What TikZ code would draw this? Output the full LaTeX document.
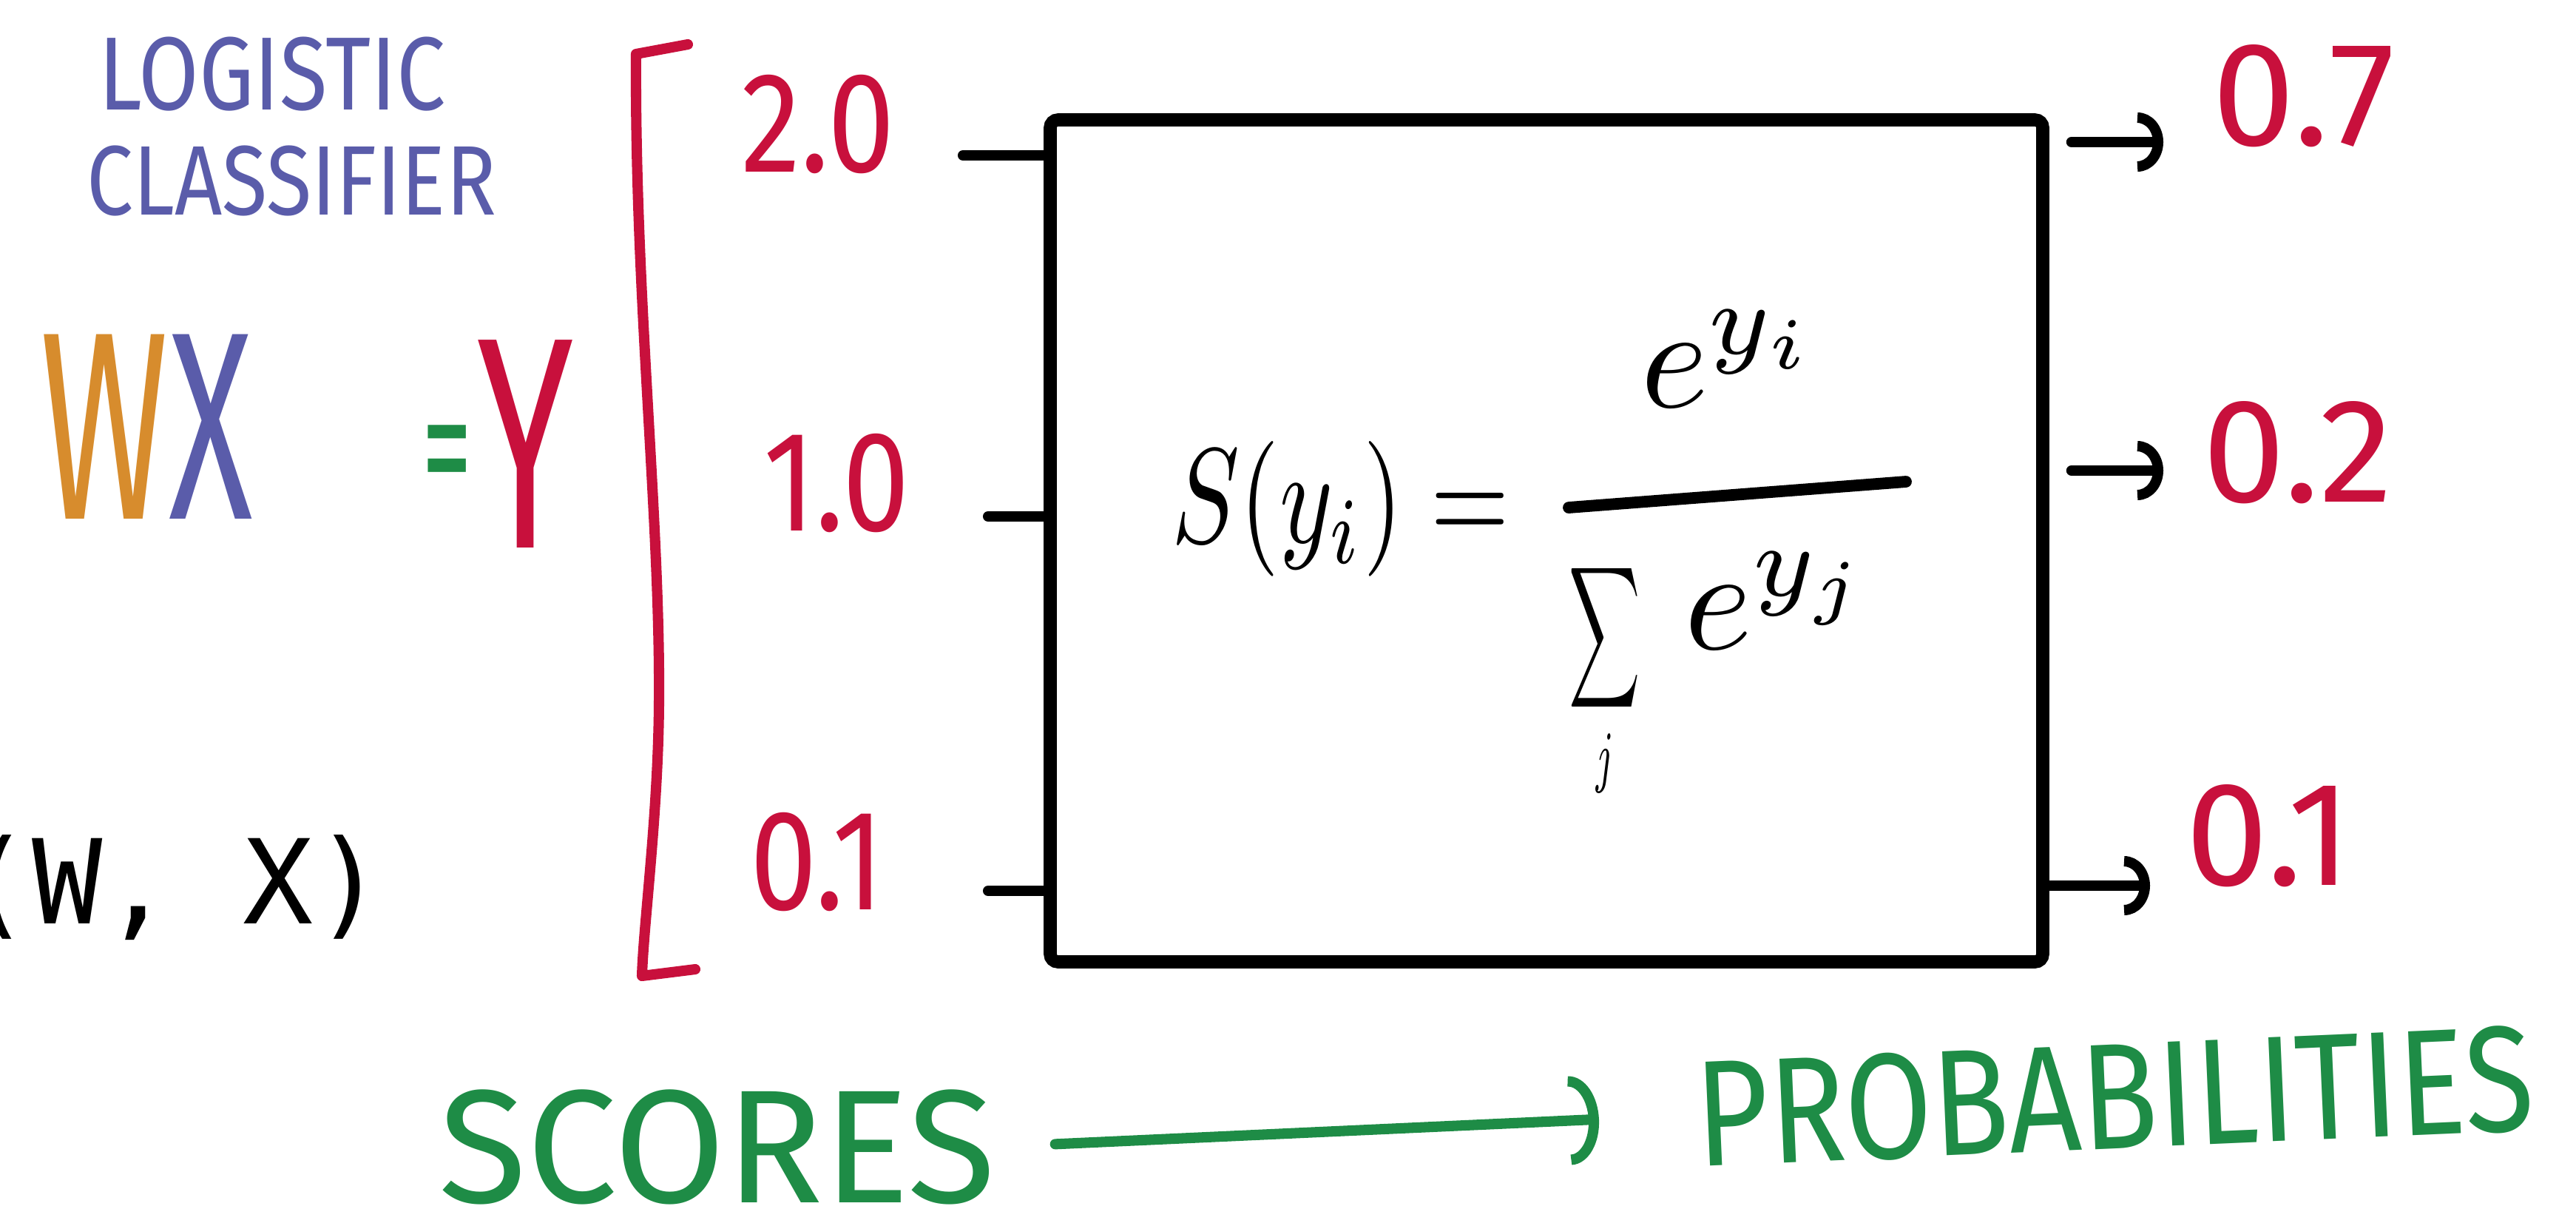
\documentclass[tikz,border=0pt]{standalone}
\usepackage{amsmath}
\usepackage{graphicx}
\usepackage{fontspec}
\newfontfamily\handfont{Fira Sans}
\newfontfamily\tallhand[FakeStretch=0.84]{Fira Sans}
\newfontfamily\slimhand[FakeStretch=0.58]{Fira Sans}
\newfontfamily\codefont{DejaVu Sans Mono}
\usepackage{tikz}
\usetikzlibrary{arrows.meta,positioning}
\definecolor{cblue}{HTML}{5A5CAA}
\definecolor{corange}{HTML}{D78C2D}
\definecolor{cgreen}{HTML}{1E8C46}
\definecolor{cred}{HTML}{C8103C}

\begin{document}
\begin{tikzpicture}[
  inval/.style={text=cred,inner sep=0pt,font=\tallhand\fontsize{55}{58}\selectfont},
  outval/.style={text=cred,inner sep=0pt,font=\handfont\fontsize{57}{60}\selectfont},
  intick/.style={line width=4pt,line cap=round},
  outarrow/.style={line width=4pt,line cap=round,-{Arc Barb[length=3.5mm,width=8mm]}},
  garrow/.style={cgreen,line width=4pt,line cap=round,shorten <=0.8cm,shorten >=1.3cm,-{Arc Barb[length=4mm,width=12mm]}}]
\useasboundingbox (0,0) rectangle (34.83,-16.56);
\node[anchor=base west,inner sep=0pt,text=cblue,font=\tallhand\fontsize{40}{42}\selectfont] (logi) at (1.33,-1.48) {LOGISTIC};
\node[below=0.46cm of logi.south west,anchor=north west,xshift=-0.16cm,inner sep=0pt,text=cblue,font=\tallhand\fontsize{38}{40}\selectfont] (clas) {CLASSIFIER};
\node[inner sep=0pt,font=\slimhand\fontsize{103}{110}\selectfont] (wx) at (1.98,-5.77) {\textcolor{corange}{W}\textcolor{cblue}{X}};
\node[inner sep=0pt,text=cgreen,font=\slimhand\fontsize{67}{70}\selectfont] (eq) at (6.05,-6.30) {=};
\node[inner sep=0pt,text=cred,font=\slimhand\fontsize{116}{120}\selectfont] (yv) at (7.11,-6.00) {Y};
\node[anchor=base east,inner sep=0pt,font=\codefont\fontsize{45}{48}\selectfont] (call) at (5.20,-12.48) {(W, X)};
\draw[cred,line width=4pt,line cap=round,line join=round] (9.30,-0.60) -- (8.60,-0.73) .. controls (8.58,-4.0) and (8.93,-7.0) .. (8.91,-9.5) .. controls (8.90,-11.0) and (8.70,-12.5) .. (8.68,-13.19) -- (9.40,-13.10);
\node[inval] (s1) at (11.06,-1.68) {2.0};
\node[inval] (s2) at (11.31,-6.53) {1.0};
\node[inval] (s3) at (11.05,-11.65) {0.1};
\node[draw,line width=5pt,rounded corners=3pt,minimum width=13.42cm,minimum height=11.38cm,inner sep=0pt] (box) at (20.91,-7.31) {};
\coordinate (k1) at (13.02,-2.10);
\coordinate (k2) at (13.36,-6.98);
\coordinate (k3) at (13.36,-12.04);
\foreach \k in {k1,k2,k3}
  \draw[intick] (\k) -- (\k -| box.west);
\node[inner sep=0pt] (lhs) at (18.13,-6.88) {\scalebox{3.9}[5.2]{$S(y_i) =$}};
\node[inner sep=0pt] (num) at (23.40,-4.85) {\scalebox{5.6}{$e^{y_i}$}};
\node[inner sep=0pt] (sig) at (21.70,-9.20) {\scalebox{1.9}[3.8]{$\displaystyle\sum_j$}};
\node[inner sep=0pt] (dexp) at (24.05,-8.12) {\scalebox{5.6}{$e^{y_j}$}};
\coordinate (fl) at (21.21,-6.86);
\coordinate (fr) at (25.77,-6.51);
\draw[line width=4.5pt,line cap=round] (fl) -- (fr);
\coordinate (o1) at (29.25,-1.92);
\coordinate (o2) at (29.25,-6.36);
\coordinate (o3) at (29.07,-11.97);
\draw[outarrow,shorten <=0.3cm] (box.east |- o1) -- (o1);
\draw[outarrow,shorten <=0.3cm] (box.east |- o2) -- (o2);
\draw[outarrow] (box.east |- o3) -- (o3);
\node[outval] (p1) at (31.15,-1.30) {0.7};
\node[outval] (p2) at (31.07,-6.12) {0.2};
\node[outval] (p3) at (30.68,-11.30) {0.1};
\node[inner sep=0pt,text=cgreen,font=\handfont\fontsize{62}{66}\selectfont] (scores) at (9.70,-15.50) {SCORES};
\node[inner sep=0pt,text=cgreen,rotate=2.5,font=\tallhand\fontsize{58}{62}\selectfont] (probs) at (28.59,-14.82) {PROBABILITIES};
\draw[garrow] (scores.east) -- (probs.west);
\end{tikzpicture}
\end{document}
